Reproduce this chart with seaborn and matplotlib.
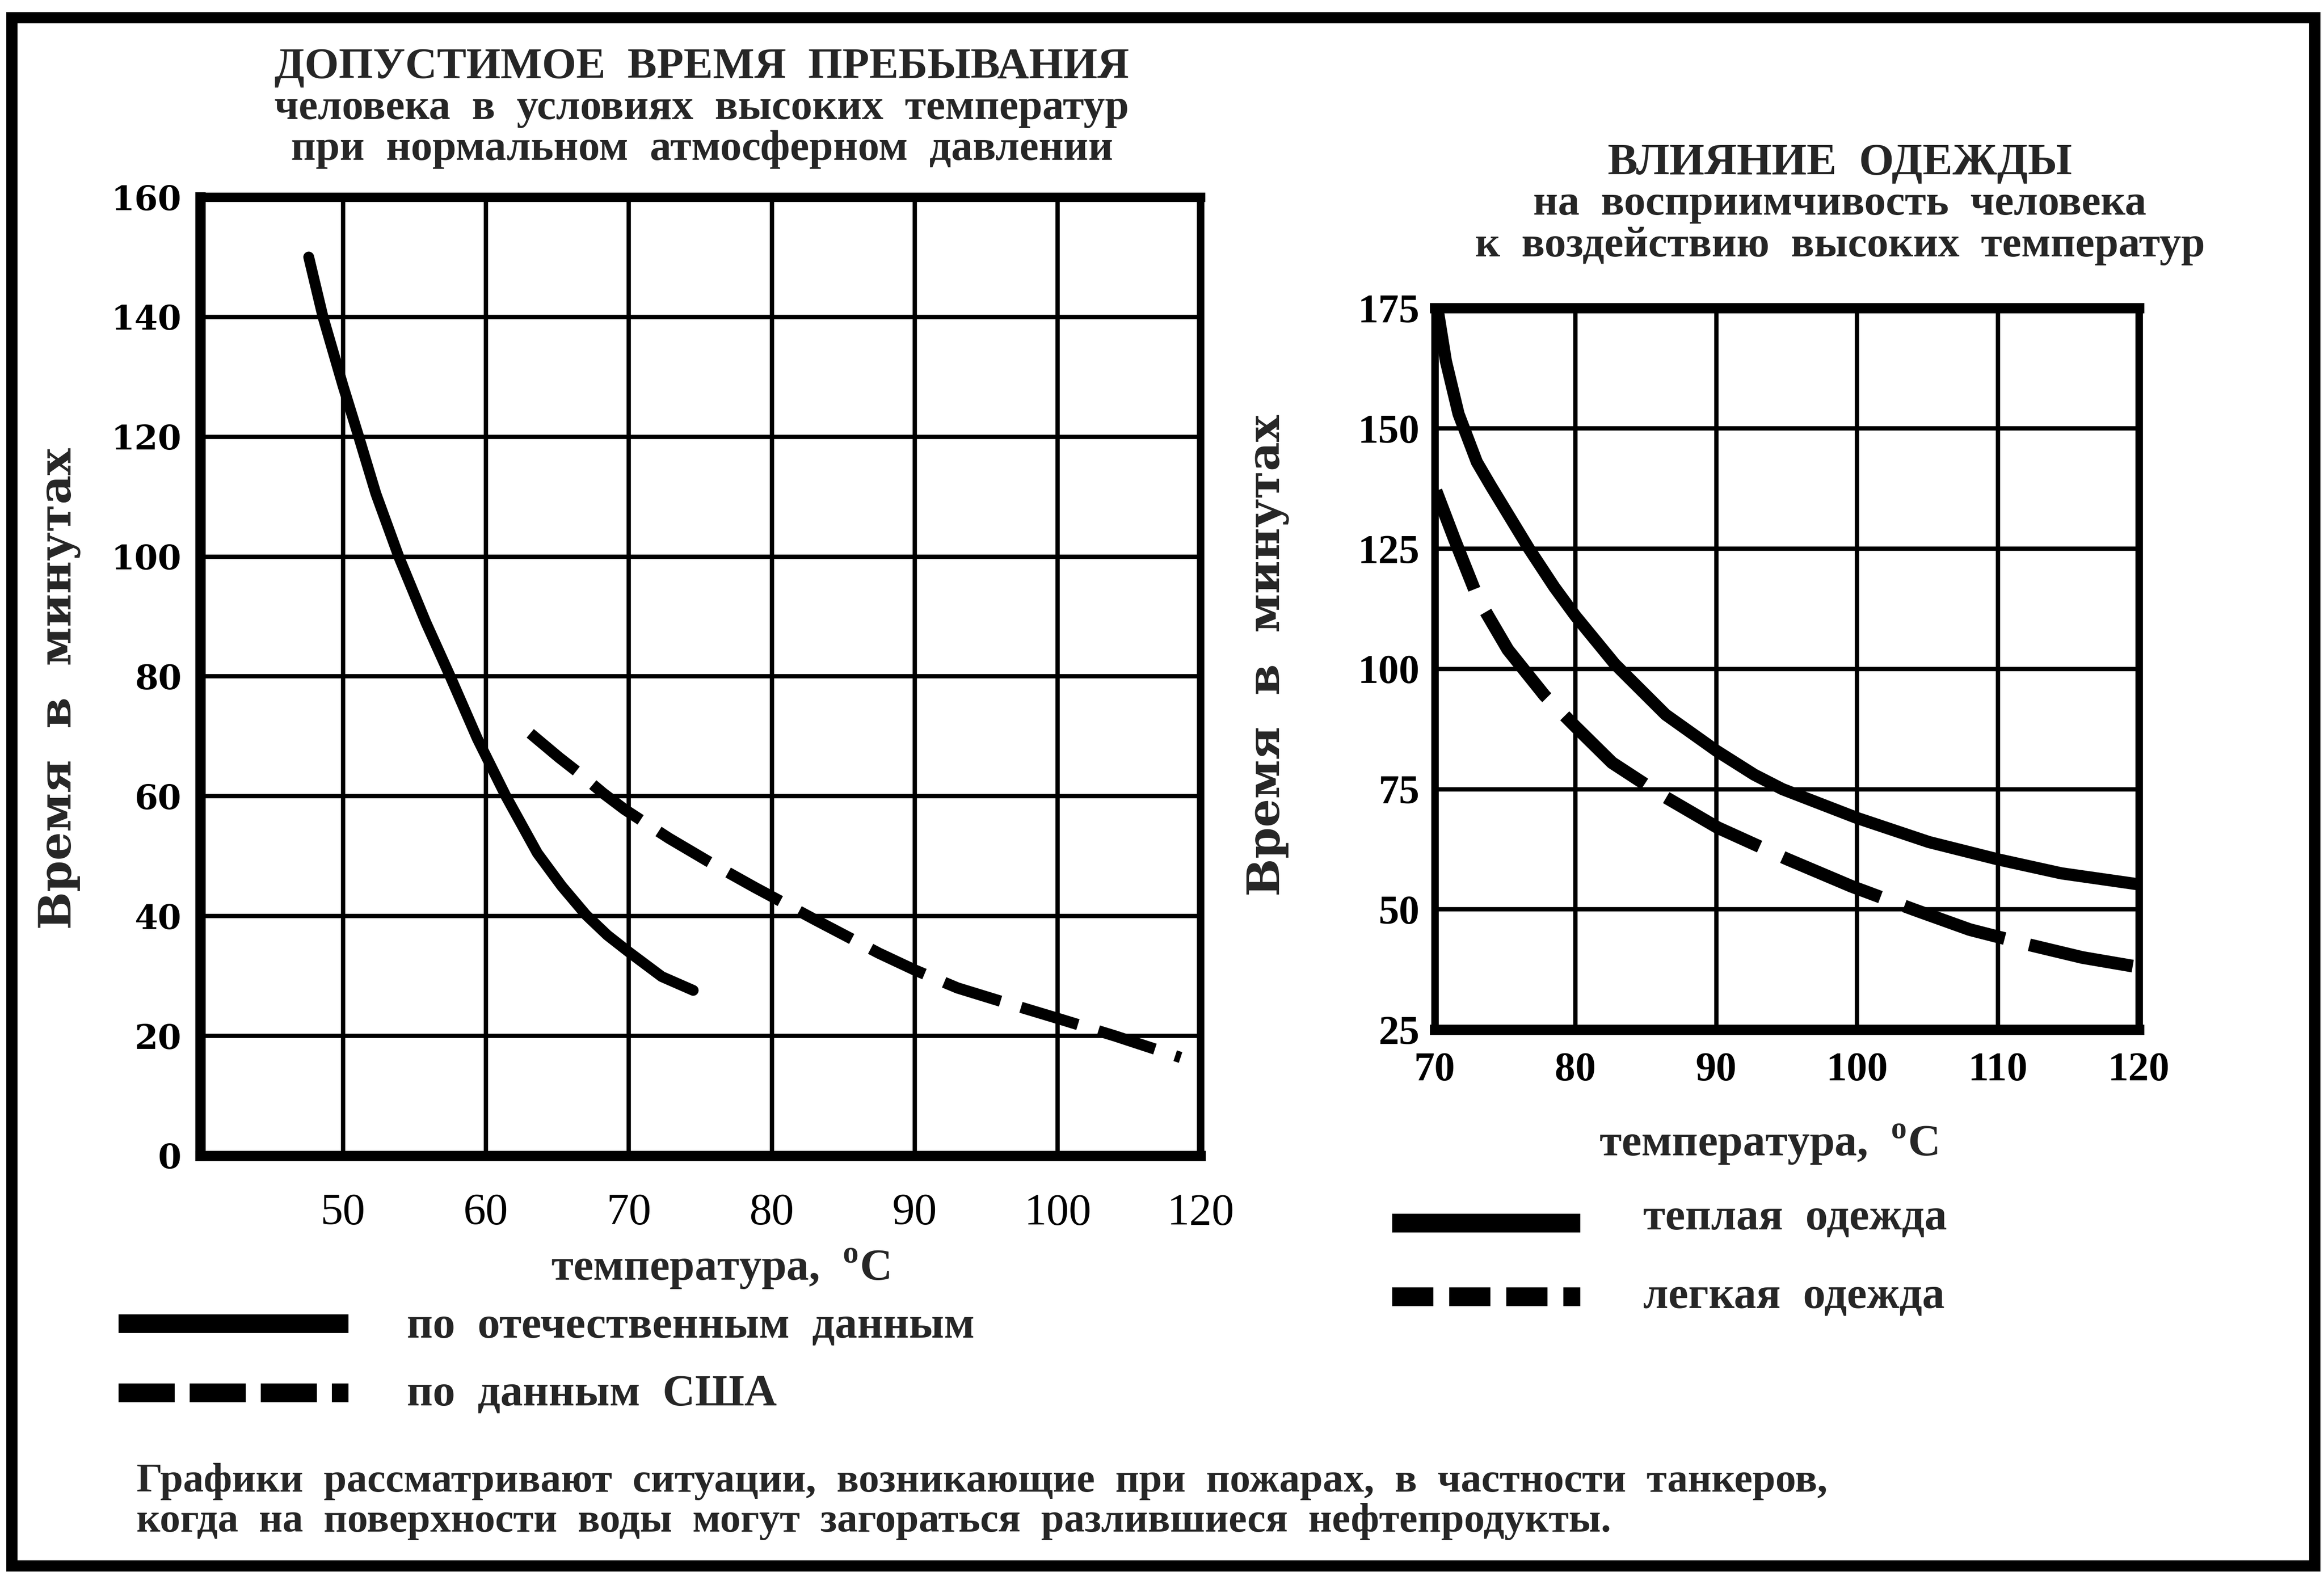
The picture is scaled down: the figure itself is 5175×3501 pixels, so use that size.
import matplotlib
matplotlib.use("Agg")
import matplotlib.pyplot as plt
from matplotlib.patches import Rectangle
from matplotlib.lines import Line2D
import pandas as pd
import seaborn as sns

# ---- Left panel: permissible exposure time at normal atmospheric pressure ----
# x is given in grid units: the grid runs 40..110, the last line is labelled 120
left_xticks = [50, 60, 70, 80, 90, 100, 110]
left_xticklabels = ["50", "60", "70", "80", "90", "100", "120"]
left_yticks = [0, 20, 40, 60, 80, 100, 120, 140, 160]

domestic_t = [47.6, 48.6, 50.0, 51.1, 52.3, 53.9, 55.8, 57.5, 59.4, 61.4, 63.6, 65.3,
              67.0, 68.5, 70.0, 72.3, 74.5]
domestic_min = [150, 140, 128.5, 120, 110.5, 100, 89, 80, 69.6, 60, 50.5, 45,
                40.2, 36.8, 34, 29.9, 27.6]

usa_t = [63.1, 65.1, 66.6, 68.2, 69.7, 72.8, 75.5, 78.8, 83.1, 87.5, 90.0, 93.0,
         96.0, 99.9, 104.0, 108.6]
usa_min = [70.5, 66.5, 63.7, 60.5, 57.8, 53.0, 49.2, 44.8, 39.3, 33.8, 31.0, 28.0,
           25.8, 23.0, 20.0, 16.4]

# ---- Right panel: influence of clothing ----
right_xticks = [70, 80, 90, 100, 110, 120]
right_yticks = [25, 50, 75, 100, 125, 150, 175]

warm_t = [70.2, 70.8, 71.7, 73.0, 74.0, 76.7, 78.5, 80.0, 82.8, 86.4, 90.0, 92.7,
          94.7, 100.0, 105.1, 110.0, 114.5, 120.0]
warm_min = [175, 164, 153, 143, 138, 125, 117, 111, 101, 90.5, 83, 78,
            75, 69, 64, 60.4, 57.5, 55.2]

light_t = [70.1, 71.4, 73.1, 75.2, 77.8, 80.0, 82.6, 86.0, 90.1, 95.0, 99.6, 104.0,
           108.0, 112.0, 116.0, 120.0]
light_min = [137, 127, 114.5, 104, 94.5, 88, 80.5, 74, 67, 60.5, 54.8, 50,
             45.8, 42.8, 40, 38]

sns.set_theme(style="white")
plt.rcParams["font.family"] = ["Liberation Serif", "DejaVu Serif"]
plt.rcParams["font.weight"] = "bold"
plt.rcParams["mathtext.fontset"] = "custom"
plt.rcParams["mathtext.rm"] = "Liberation Serif:bold"

fig = plt.figure(figsize=(17.25, 11.67), dpi=300)
fig.patch.set_facecolor("white")

# outer frame
fig.patches.append(Rectangle((0.005, 0.004), 0.991, 0.985, transform=fig.transFigure,
                             fill=False, edgecolor="black", linewidth=6, zorder=10))

ax1 = fig.add_axes([0.0861, 0.2648, 0.4305, 0.6098])
ax2 = fig.add_axes([0.6173, 0.345, 0.3030, 0.459])

df_dom = pd.DataFrame({"t": domestic_t, "min": domestic_min})
df_usa = pd.DataFrame({"t": usa_t, "min": usa_min})
df_warm = pd.DataFrame({"t": warm_t, "min": warm_min})
df_light = pd.DataFrame({"t": light_t, "min": light_min})

sns.lineplot(data=df_dom, x="t", y="min", ax=ax1, color="black", linewidth=5.8,
             sort=False, zorder=5)
ax1.lines[-1].set_solid_capstyle("round")
ax1.lines[-1].set_solid_joinstyle("round")
sns.lineplot(data=df_usa, x="t", y="min", ax=ax1, color="black", linewidth=6.0,
             sort=False, zorder=5)
ax1.lines[-1].set_linestyle((0, (5.3, 1.9)))
ax1.lines[-1].set_dash_capstyle("butt")
ax1.lines[-1].set_dash_joinstyle("round")

sns.lineplot(data=df_warm, x="t", y="min", ax=ax2, color="black", linewidth=6.5,
             sort=False, zorder=5)
ax2.lines[-1].set_solid_capstyle("butt")
ax2.lines[-1].set_solid_joinstyle("round")
sns.lineplot(data=df_light, x="t", y="min", ax=ax2, color="black", linewidth=6.8,
             sort=False, zorder=5)
ax2.lines[-1].set_linestyle((0, (8.3, 2.0)))
ax2.lines[-1].set_dash_capstyle("butt")
ax2.lines[-1].set_dash_joinstyle("round")

# axes styling
ax1.set_xlim(40, 110)
ax1.set_ylim(0, 160)
ax1.set_xticks(left_xticks)
ax1.set_xticklabels(left_xticklabels, fontsize=24, fontweight="normal")
ax1.set_yticks(left_yticks)
ax1.set_yticklabels([str(v) for v in left_yticks], fontfamily="DejaVu Serif",
                    fontweight="bold", fontsize=18)

ax2.set_xlim(70, 120)
ax2.set_ylim(25, 175)
ax2.set_xticks(right_xticks)
ax2.set_yticks(right_yticks)
ax2.set_xticklabels([str(v) for v in right_xticks], fontsize=22)
ax2.set_yticklabels([str(v) for v in right_yticks], fontsize=22)

for ax in (ax1, ax2):
    ax.set_xlabel("")
    ax.set_ylabel("")
    ax.grid(True, color="black", linewidth=2.3)
    ax.set_axisbelow(True)
    for s in ax.spines.values():
        s.set_visible(True)
        s.set_color("black")
        s.set_linewidth(4.0)
    ax.spines["bottom"].set_linewidth(5.5)
    ax.tick_params(length=0, colors="black")
ax1.spines["left"].set_linewidth(5.5)
ax2.spines["top"].set_linewidth(5.5)
ax1.spines["top"].set_linewidth(5.0)
ax1.tick_params(axis="x", pad=20)
ax1.tick_params(axis="y", pad=10)
ax2.tick_params(axis="x", pad=12)
ax2.tick_params(axis="y", pad=8)

# titles
fig.text(0.302, 0.957, "ДОПУСТИМОЕ  ВРЕМЯ  ПРЕБЫВАНИЯ", ha="center", va="center",
         fontsize=23.5)
fig.text(0.302, 0.931, "человека  в  условиях  высоких  температур", ha="center",
         va="center", fontsize=23)
fig.text(0.302, 0.905, "при  нормальном  атмосферном  давлении", ha="center",
         va="center", fontsize=23)

fig.text(0.7917, 0.896, "ВЛИЯНИЕ  ОДЕЖДЫ", ha="center", va="center", fontsize=24)
fig.text(0.7917, 0.870, "на  восприимчивость  человека", ha="center", va="center",
         fontsize=23)
fig.text(0.7917, 0.8435, "к  воздействию  высоких  температур", ha="center",
         va="center", fontsize=23)

# y labels
fig.text(0.0255, 0.562, "Время  в  минутах", rotation=90, ha="center", va="center",
         fontsize=24, fontweight="bold", fontfamily="DejaVu Serif")
fig.text(0.5455, 0.583, "Время  в  минутах", rotation=90, ha="center", va="center",
         fontsize=24, fontweight="bold", fontfamily="DejaVu Serif")

# x labels
xlab = r"температура,  $^{\mathregular{o}}\mathregular{C}$"
fig.text(0.310, 0.193, xlab, ha="center", va="center", fontsize=24)
fig.text(0.761, 0.272, xlab, ha="center", va="center", fontsize=24)

# legends
fig.add_artist(Line2D([0.051, 0.150], [0.158, 0.158], color="black", linewidth=10,
                      solid_capstyle="butt"))
fig.text(0.175, 0.156, "по  отечественным  данным", ha="left", va="center", fontsize=24)
fig.add_artist(Line2D([0.051, 0.150], [0.114, 0.114], color="black", linewidth=10,
                      linestyle=(0, (3.0, 0.8)), dash_capstyle="butt"))
fig.text(0.175, 0.113, "по  данным  США", ha="left", va="center", fontsize=24)

fig.add_artist(Line2D([0.599, 0.680], [0.222, 0.222], color="black", linewidth=10,
                      solid_capstyle="butt"))
fig.text(0.707, 0.225, "теплая  одежда", ha="left", va="center", fontsize=24)
fig.add_artist(Line2D([0.599, 0.680], [0.175, 0.175], color="black", linewidth=10,
                      linestyle=(0, (2.2, 0.85)), dash_capstyle="butt"))
fig.text(0.707, 0.175, "легкая  одежда", ha="left", va="center", fontsize=24)

# note at the bottom
fig.text(0.0587, 0.0575,
         "Графики  рассматривают  ситуации,  возникающие  при  пожарах,  в  частности  танкеров,",
         ha="left", va="center", fontsize=22)
fig.text(0.0587, 0.032,
         "когда  на  поверхности  воды  могут  загораться  разлившиеся  нефтепродукты.",
         ha="left", va="center", fontsize=22)

fig.savefig("out.png", dpi=300, facecolor="white")
